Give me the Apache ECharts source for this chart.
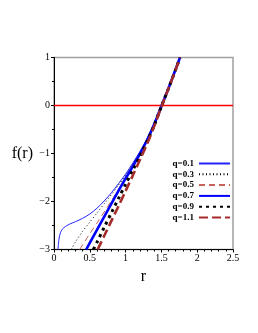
<!DOCTYPE html>
<html><head><meta charset="utf-8">
<script src="https://cdn.jsdelivr.net/npm/echarts@6/dist/echarts.min.js"></script>
<style>html,body{margin:0;padding:0;background:#fff}#c{width:258px;height:333px}</style>
</head><body><div id="c"></div>
<script>
const seriesNames = ['q=0.1','q=0.3','q=0.5','q=0.7','q=0.9','q=1.1'];
const xTicks = [0, 0.5, 1, 1.5, 2, 2.5];
const yTicks = [-3, -2, -1, 0, 1];
const q01 = [[0.055,-3],[0.07,-2.78],[0.09,-2.65],[0.12,-2.57],[0.16,-2.52],[0.22,-2.47],[0.3,-2.42],[0.4,-2.35],[0.5,-2.26],[0.6,-2.14],[0.7,-1.99],[0.8,-1.82],[0.9,-1.63],[1.0,-1.43],[1.1,-1.2],[1.2,-0.96],[1.3,-0.69],[1.4,-0.37],[1.5,0],[1.6,0.37],[1.7,0.76],[1.76,1.0]];
const q03 = [[0.24,-3],[0.3,-2.84],[0.4,-2.62],[0.5,-2.43],[0.6,-2.24],[0.7,-2.05],[0.8,-1.86],[0.9,-1.66],[1.0,-1.45],[1.1,-1.22],[1.2,-0.97],[1.3,-0.7],[1.4,-0.37],[1.5,0],[1.6,0.37],[1.7,0.76],[1.76,1.0]];
const q05 = [[0.36,-3],[0.4,-2.9],[0.5,-2.67],[0.6,-2.45],[0.7,-2.22],[0.8,-1.99],[0.9,-1.75],[1.0,-1.5],[1.1,-1.25],[1.2,-0.99],[1.3,-0.71],[1.4,-0.38],[1.5,0],[1.6,0.37],[1.7,0.76],[1.76,1.0]];
const q07 = [[0.45,-3],[0.5,-2.86],[0.6,-2.59],[0.7,-2.32],[0.8,-2.05],[0.9,-1.78],[1.0,-1.52],[1.1,-1.27],[1.2,-1.01],[1.3,-0.72],[1.4,-0.39],[1.5,-0.01],[1.6,0.36],[1.7,0.76],[1.76,1.0]];
const q09 = [[0.55,-3],[0.6,-2.85],[0.7,-2.54],[0.8,-2.24],[0.9,-1.94],[1.0,-1.64],[1.1,-1.35],[1.2,-1.06],[1.3,-0.75],[1.4,-0.41],[1.5,-0.02],[1.6,0.36],[1.7,0.75],[1.76,1.0]];
const q11 = [[0.61,-3],[0.7,-2.72],[0.8,-2.41],[0.9,-2.1],[1.0,-1.78],[1.1,-1.46],[1.2,-1.13],[1.3,-0.8],[1.4,-0.43],[1.5,-0.03],[1.6,0.36],[1.7,0.75],[1.76,1.0]];
const zeroLine = [[0, 0], [2.5, 0]];

const dataList = [q01, q03, q05, q07, q09, q11];
const styles = [
  {color:'#2222ff', width:1, type:'solid'},
  {color:'#000000', width:1, type:[1,2.5]},
  {color:'#c8605a', width:1, type:[6,4]},
  {color:'#0000ff', width:2.6, type:'solid'},
  {color:'#000000', width:3, type:[3,4]},
  {color:'#a52a2a', width:2.6, type:[9,4]}
];
const FONT = 'Liberation Serif';
const series = dataList.map((d, i) => ({
  name: seriesNames[i], type: 'line', data: d, showSymbol: false, symbol: 'none',
  smooth: 0.3, clip: true,
  lineStyle: {color: styles[i].color, width: styles[i].width, type: styles[i].type},
  itemStyle: {color: styles[i].color},
  z: 3
}));
series.unshift({
  name: 'zero', type: 'line', data: zeroLine, showSymbol: false, symbol: 'none',
  color: '#ff0000', lineStyle: {color: '#ff0000', width: 1.6, type: 'solid'}, itemStyle: {color: '#ff0000'},
  z: 2, silent: true
});

const chart = echarts.init(document.getElementById('c'), null, {renderer: 'canvas'});
chart.setOption({
  animation: false,
  backgroundColor: '#fff',
  grid: {left: 54, right: 25, top: 57.5, bottom: 83.5, show: true, borderColor: '#a0a0a0', borderWidth: 1.5, containLabel: false},
  legend: {
    data: seriesNames, orient: 'vertical', right: 27, top: 159, align: 'right', padding: 0,
    itemWidth: 31, itemHeight: 9, itemGap: 1.8,
    itemStyle: {opacity: 0, borderWidth: 0},
    textStyle: {fontFamily: FONT, fontWeight: 'bold', fontSize: 9, color: '#000', padding: [0, 0, 0, 0]},
    selectedMode: false
  },
  xAxis: {
    type: 'value', min: 0, max: 2.5, interval: 0.5,
    name: 'r', nameLocation: 'middle', nameGap: 17,
    nameTextStyle: {fontFamily: FONT, fontSize: 16, color: '#000'},
    axisLine: {show: true, onZero: false, lineStyle: {color: '#000', width: 1}},
    axisTick: {show: true, length: 3, lineStyle: {color: '#000'}},
    minorTick: {show: true, splitNumber: 5, length: 2, lineStyle: {color: '#000'}},
    splitLine: {show: false},
    axisLabel: {fontFamily: FONT, fontSize: 10, color: '#000', margin: 4,
      formatter: v => xTicks.includes(v) ? String(v) : ''}
  },
  yAxis: {
    type: 'value', min: -3, max: 1, interval: 1,
    name: 'f(r)', nameLocation: 'middle', nameGap: 21, nameRotate: 0,
    nameTextStyle: {fontFamily: FONT, fontSize: 16, color: '#000', align: 'right', verticalAlign: 'middle'},
    axisLine: {show: true, onZero: false, lineStyle: {color: '#000', width: 1}},
    axisTick: {show: true, length: 3, lineStyle: {color: '#000'}},
    minorTick: {show: true, splitNumber: 2, length: 2, lineStyle: {color: '#000'}},
    splitLine: {show: false},
    minorSplitLine: {show: false},
    axisLabel: {fontFamily: FONT, fontSize: 10, color: '#000', margin: 4,
      formatter: v => yTicks.includes(v) ? String(v).replace('-', '\u2212') : ''}
  },
  series: series
});
</script></body></html>
